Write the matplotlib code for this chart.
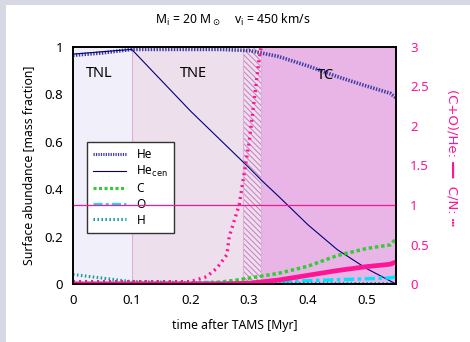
import matplotlib
matplotlib.use("Agg")
import matplotlib.pyplot as plt
from matplotlib.patches import Rectangle

plt.rcParams["font.family"] = ["Noto Sans", "DejaVu Sans"]
plt.rcParams["mathtext.fontset"] = "dejavusans"
plt.rcParams["hatch.linewidth"] = 0.7

# phase boundaries (Myr after TAMS)
phases = ["TNL", "TNE", "TC"]
phase_edges = [0.0, 0.1, 0.29, 0.32, 0.55]

# surface He and central He
t_he = [0.0, 0.05, 0.1, 0.15, 0.2, 0.25, 0.3, 0.35, 0.4, 0.45, 0.5, 0.54, 0.55]
he_surf = [0.965, 0.975, 0.99, 0.99, 0.99, 0.99, 0.985, 0.96, 0.92, 0.875, 0.835, 0.805, 0.785]
t_hec = [0.0, 0.1, 0.15, 0.2, 0.25, 0.3, 0.32, 0.35, 0.4, 0.45, 0.5, 0.55]
he_cen = [0.97, 0.99, 0.86, 0.73, 0.61, 0.49, 0.44, 0.37, 0.25, 0.145, 0.065, 0.0]

# C, O, H surface abundance
t_cno = [0.0, 0.1, 0.2, 0.25, 0.28, 0.3, 0.35, 0.4, 0.45, 0.5, 0.54, 0.55]
c_surf = [0.003, 0.003, 0.004, 0.008, 0.017, 0.025, 0.045, 0.075, 0.12, 0.15, 0.165, 0.19]
o_surf = [0.002, 0.002, 0.002, 0.003, 0.004, 0.006, 0.01, 0.014, 0.018, 0.022, 0.026, 0.03]
h_surf = [0.04, 0.01, 0.006, 0.005, 0.004, 0.004, 0.003, 0.003, 0.003, 0.002, 0.002, 0.002]

# ratios on right axis
t_co = [0.0, 0.25, 0.3, 0.35, 0.4, 0.45, 0.5, 0.54, 0.55]
co_he = [0.0, 0.0, 0.01, 0.05, 0.11, 0.17, 0.22, 0.25, 0.28]
t_cn = [0.0, 0.1, 0.2, 0.227, 0.245, 0.262, 0.266, 0.283, 0.3, 0.317, 0.325]
c_n = [0.03, 0.03, 0.03, 0.09, 0.2, 0.37, 0.6, 1.0, 1.8, 2.85, 3.2]

pink = "#ff1493"

fig = plt.figure(figsize=(4.7, 3.42), dpi=100)
fig.patch.set_facecolor("#d6d9e4")
fig.patches.append(Rectangle((6 / 470, 0), 1, 1 - 5 / 342, transform=fig.transFigure,
                             facecolor="white", edgecolor="none", zorder=-10))
ax = fig.add_axes([73 / 470, 1 - 284 / 342, 323 / 470, 237 / 342])

ax.axvspan(phase_edges[0], phase_edges[1], color="#f1f0fa", lw=0)
ax.axvspan(phase_edges[1], phase_edges[2], color="#ede0ec", lw=0)
ax.axvspan(phase_edges[2], phase_edges[3], facecolor="#ede0ec", edgecolor="#c77ac4",
           hatch="\\" * 6, lw=0)
ax.axvspan(phase_edges[3], phase_edges[4], color="#e9b5e7", lw=0)
for xe in phase_edges[1:4]:
    ax.axvline(xe, color="#dcb0d8", lw=0.8)

ax.plot(t_he, he_surf, color="#3c3ca0", lw=2.6, ls=(0, (0.4, 0.4)), label="He")
ax.plot(t_hec, he_cen, color="#00007a", lw=0.8, label="He$_\\mathrm{cen}$")
ax.plot(t_cno, c_surf, color="#33cc33", lw=2.5, ls=(0, (1, 0.8)), label="C")
ax.plot(t_cno, o_surf, color="#00e5ff", lw=2.5, ls=(0, (3, 1, 1, 1)), label="O")
ax.plot(t_cno, h_surf, color="#1a9a9a", lw=2.2, ls=(0, (0.5, 0.8)), label="H")

ax.set_xlim(0, 0.55)
ax.set_ylim(0, 1)
ax.set_xticks([0, 0.1, 0.2, 0.3, 0.4, 0.5])
ax.set_xticklabels(["0", "0.1", "0.2", "0.3", "0.4", "0.5"])
ax.set_yticks([0, 0.2, 0.4, 0.6, 0.8, 1])
ax.set_yticklabels(["0", "0.2", "0.4", "0.6", "0.8", "1"])
ax.tick_params(length=0, labelsize=9.5, pad=7)
ax.set_xlabel("time after TAMS [Myr]", fontsize=8.8, labelpad=9)
ax.set_ylabel("Surface abundance [mass fraction]", fontsize=8.8, labelpad=7)
for s in ax.spines.values():
    s.set_linewidth(1.2)

for name, xc, yc in zip(phases, [0.045, 0.205, 0.43], [0.89, 0.89, 0.88]):
    ax.text(xc, yc, name, fontsize=10.5, ha="center", va="center")

leg = ax.legend(loc="upper left", bbox_to_anchor=(0.043, 0.60), fontsize=8.5, frameon=True,
                fancybox=False, edgecolor="#333333", framealpha=1, handlelength=2.8,
                handletextpad=0.9, borderpad=0.5, labelspacing=0.25, borderaxespad=0)
leg.get_frame().set_linewidth(1.0)
for h in leg.get_lines():
    h.set_linewidth(min(h.get_linewidth(), 2.2))

ax2 = ax.twinx()
ax2.axhline(1, color=pink, lw=0.9)
ax2.plot(t_co, co_he, color=pink, lw=3.4)
ax2.plot(t_cn, c_n, color=pink, lw=2.4, ls=(0, (0.6, 1.2)))
ax2.set_ylim(0, 3)
ax2.set_yticks([0, 0.5, 1, 1.5, 2, 2.5, 3])
ax2.set_yticklabels(["0", "0.5", "1", "1.5", "2", "2.5", "3"])
ax2.tick_params(length=0, labelsize=9.5, labelcolor=pink, pad=10)
ax2.set_ylabel("(C+O)/He: \u2501\u2501  C/N: \u2505", fontsize=9.5, color=pink,
               rotation=270, va="center", family=["DejaVu Sans"])
ax2.yaxis.set_label_coords((452 - 73) / 323, (284 - 157) / 237)
for s in ax2.spines.values():
    s.set_linewidth(1.2)

fig.text(233 / 470, 1 - 20 / 342,
         "M$_\\mathrm{i}$ = 20 M$_\\odot$    v$_\\mathrm{i}$ = 450 km/s",
         fontsize=8.8, ha="center", va="center")

fig.savefig("out.png", dpi=100, facecolor=fig.get_facecolor())
